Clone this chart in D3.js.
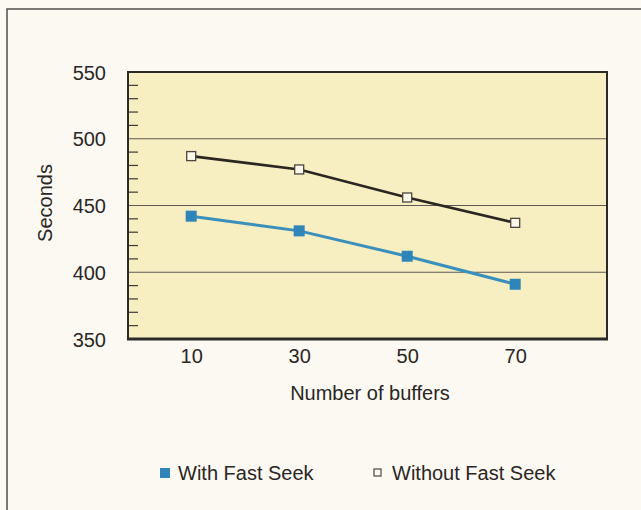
<!DOCTYPE html>
<html>
<head>
<meta charset="utf-8">
<script src="https://cdn.jsdelivr.net/npm/d3@7/dist/d3.min.js"></script>
<style>
  html, body { margin: 0; padding: 0; background: #fbf9f2; }
  svg { display: block; }
  text { font-family: "Liberation Sans", Arial, Helvetica, sans-serif; fill: #2a2624; }
</style>
</head>
<body>
<svg id="chart" width="641" height="510"></svg>
<script>
// Buffers tested and elapsed time (seconds) for each configuration
const buffers = [10, 30, 50, 70];
const withFastSeek = [442, 431, 412, 391];
const withoutFastSeek = [487, 477, 456, 437];
const yTicks = [350, 400, 450, 500, 550];
const yMinorTicks = [360, 370, 380, 390, 410, 420, 430, 440, 460, 470, 480, 490, 510, 520, 530, 540];
const seriesNames = ["With Fast Seek", "Without Fast Seek"];

const svg = d3.select("#chart");
const W = 641, H = 510;
const plot = { left: 128, right: 607, top: 72, bottom: 339 };
const fontSize = 20;

const x = d3.scaleLinear().domain([-1.7, 87]).range([plot.left, plot.right]);
const y = d3.scaleLinear().domain([350, 550]).range([plot.bottom, plot.top]);

// page background and outer frame
svg.append("rect").attr("width", W).attr("height", H).attr("fill", "#fbf9f2");
svg.append("rect")
  .attr("x", 7).attr("y", 9).attr("width", W + 10).attr("height", H + 10)
  .attr("fill", "none").attr("stroke", "#5a5856").attr("stroke-width", 1.6);

// plot area
svg.append("rect")
  .attr("x", plot.left).attr("y", plot.top)
  .attr("width", plot.right - plot.left).attr("height", plot.bottom - plot.top)
  .attr("fill", "#f7eec2");

// horizontal grid lines
svg.append("g").selectAll("line")
  .data(yTicks.filter(v => v > 350 && v < 550))
  .join("line")
  .attr("x1", plot.left).attr("x2", plot.right)
  .attr("y1", d => y(d)).attr("y2", d => y(d))
  .attr("stroke", "#5e5a52").attr("stroke-width", 1);

// minor ticks along the inside of the left edge
svg.append("g").selectAll("line")
  .data(yMinorTicks)
  .join("line")
  .attr("x1", plot.left).attr("x2", plot.left + 10)
  .attr("y1", d => y(d)).attr("y2", d => y(d))
  .attr("stroke", "#3e3a36").attr("stroke-width", 1.2);

// plot border
svg.append("rect")
  .attr("x", plot.left).attr("y", plot.top)
  .attr("width", plot.right - plot.left).attr("height", plot.bottom - plot.top)
  .attr("fill", "none").attr("stroke", "#2c2a28").attr("stroke-width", 2);
svg.append("line")
  .attr("x1", plot.left - 1).attr("x2", plot.right + 1)
  .attr("y1", plot.bottom).attr("y2", plot.bottom)
  .attr("stroke", "#2c2a28").attr("stroke-width", 3);

// y axis labels
const yAxis = d3.axisLeft(y).tickValues(yTicks).tickSize(0).tickPadding(22);
const gy = svg.append("g").attr("transform", `translate(${plot.left},0)`).call(yAxis);
gy.select(".domain").remove();
gy.selectAll("text").attr("font-size", fontSize).attr("font-family", null).attr("fill", "#2a2624").attr("dy", "0.35em");

// x axis labels
const xAxis = d3.axisBottom(x).tickValues(buffers).tickSize(0).tickPadding(10);
const gx = svg.append("g").attr("transform", `translate(0,${plot.bottom})`).call(xAxis);
gx.select(".domain").remove();
gx.selectAll("text").attr("font-size", fontSize).attr("font-family", null).attr("fill", "#2a2624");

// axis titles
svg.append("text")
  .attr("x", 370).attr("y", 400)
  .attr("text-anchor", "middle").attr("font-size", fontSize)
  .text("Number of buffers");
svg.append("text")
  .attr("transform", "translate(52,203) rotate(-90)")
  .attr("text-anchor", "middle").attr("font-size", fontSize)
  .text("Seconds");

const line = d3.line().x((d, i) => x(buffers[i])).y(d => y(d));

// series without fast seek: dark line, open squares
svg.append("path").datum(withoutFastSeek)
  .attr("d", line).attr("fill", "none")
  .attr("stroke", "#2b2622").attr("stroke-width", 2.6);
svg.append("g").selectAll("rect")
  .data(withoutFastSeek)
  .join("rect")
  .attr("x", (d, i) => x(buffers[i]) - 4.5).attr("y", d => y(d) - 4.5)
  .attr("width", 9).attr("height", 9)
  .attr("fill", "#fbf8ea").attr("stroke", "#4a4640").attr("stroke-width", 1.3);

// series with fast seek: blue line, filled squares
svg.append("path").datum(withFastSeek)
  .attr("d", line).attr("fill", "none")
  .attr("stroke", "#3a8fbd").attr("stroke-width", 3);
svg.append("g").selectAll("rect")
  .data(withFastSeek)
  .join("rect")
  .attr("x", (d, i) => x(buffers[i]) - 5.5).attr("y", d => y(d) - 5.5)
  .attr("width", 11).attr("height", 11)
  .attr("fill", "#2f84b8");

// legend
const legend = svg.append("g");
legend.append("rect")
  .attr("x", 160).attr("y", 468).attr("width", 10).attr("height", 10)
  .attr("fill", "#2f84b8");
legend.append("text")
  .attr("x", 178).attr("y", 480).attr("font-size", fontSize)
  .text(seriesNames[0]);
legend.append("rect")
  .attr("x", 374).attr("y", 469).attr("width", 7).attr("height", 7)
  .attr("fill", "none").attr("stroke", "#4a4640").attr("stroke-width", 1.2);
legend.append("text")
  .attr("x", 392).attr("y", 480).attr("font-size", fontSize)
  .text(seriesNames[1]);
</script>
</body>
</html>
